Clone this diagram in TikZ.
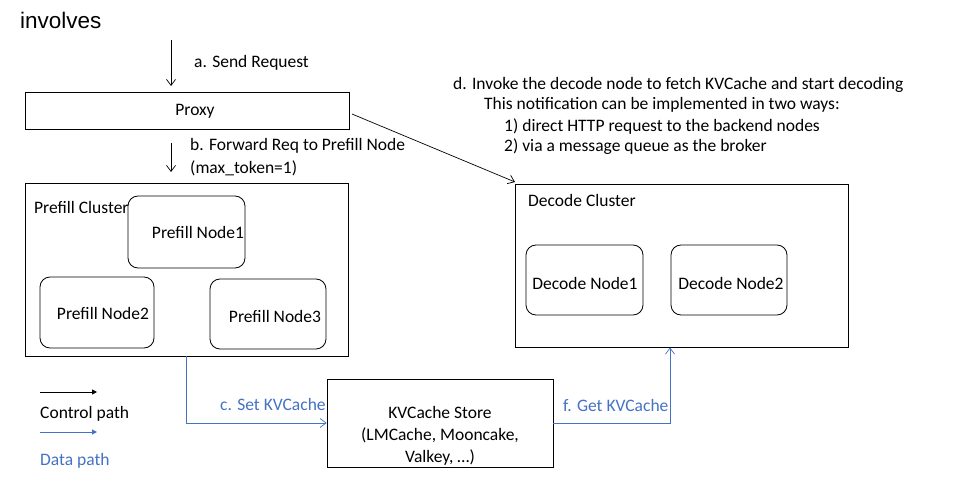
\documentclass[tikz,border=0pt]{standalone}
\usepackage{fontspec}
\setmainfont{Carlito}
\newfontfamily\arialf{Liberation Sans}
\usetikzlibrary{arrows.meta,calc}
\definecolor{dblue}{HTML}{4472C4}
\tikzset{
  box/.style={draw=black, line width=0.8pt, fill=white, inner sep=0pt},
  rbox/.style={draw=black, line width=0.8pt, rounded corners=10pt, inner sep=0pt, minimum width=116pt, minimum height=71pt},
  lbl/.style={anchor=west, inner sep=0pt, font=\fontsize{17.5}{20}\selectfont},
  ctl/.style={draw=black, line width=0.7pt, -{Straight Barb[length=6pt,width=9pt]}},
  dat/.style={draw=dblue, line width=0.7pt, -{Straight Barb[length=6pt,width=9pt]}},
  legc/.style={draw=black, line width=1pt, -{Triangle[length=5pt,width=5pt]}},
  legd/.style={draw=dblue, line width=1pt, -{Triangle[length=5pt,width=5pt]}},
}
\begin{document}
\begin{tikzpicture}[x=1pt,y=-1pt]
\useasboundingbox (0,0) rectangle (967,484);
\fill[white] (0,0) rectangle (967,484);

\node[anchor=west, inner sep=0pt, font=\arialf\fontsize{22.5}{26}\selectfont] (title) at (20,20) {involves};

% proxy
\node[box, minimum width=324pt, minimum height=37pt] (proxy) at (187,110.5) {};
\node[lbl, anchor=center] (proxyt) at (195,111) {Proxy};

% prefill cluster
\node[box, minimum width=323pt, minimum height=173pt] (pc) at (186.5,269.5) {};
\node[lbl] (pct) at (34,207) {Prefill Cluster};
\node[rbox, minimum width=117pt, minimum height=72pt] (p1) at (186.5,232) {};
\node[lbl, anchor=center] (p1t) at (198,232) {Prefill Node1};
\node[rbox, minimum width=114pt, minimum height=71pt] (p2) at (97,312.5) {};
\node[lbl, anchor=center] (p2t) at (103,313) {Prefill Node2};
\node[rbox, minimum width=116pt, minimum height=70pt] (p3) at (268,314) {};
\node[lbl, anchor=center] (p3t) at (275,316) {Prefill Node3};

% decode cluster
\node[box, minimum width=333pt, minimum height=163pt] (dc) at (681.5,265.5) {};
\node[lbl] (dct) at (528,200) {Decode Cluster};
\node[rbox, minimum width=117pt, minimum height=70pt] (d1) at (584.5,280) {};
\node[lbl, anchor=center] (d1t) at (585,283) {Decode Node1};
\node[rbox, minimum width=116pt, minimum height=70pt] (d2) at (729,280) {};
\node[lbl, anchor=center] (d2t) at (731,283) {Decode Node2};

% KV store
\node[box, minimum width=226pt, minimum height=88pt] (kv) at (440,423) {};
\node[lbl, anchor=center, align=center, font=\fontsize{17.5}{22}\selectfont] (kvt) at (440,436) {KVCache Store\\(LMCache, Mooncake,\\Valkey, \dots)};

% arrow a
\coordinate (aTop) at (171,40);
\coordinate (aBot) at (171,86);
\draw[ctl] (aTop) -- (aBot);
\node[lbl] (alab) at (194,63) {a. Send Request};

% arrow b
\coordinate (bTop) at (171,143);
\coordinate (bBot) at (171,172);
\draw[ctl] (bTop) -- (bBot);
\node[lbl] (blab1) at (190,146) {b. Forward Req to Prefill Node};
\node[lbl] (blab2) at (190,168) {(max\_token=1)};

% arrow d
\coordinate (dStart) at (352,114);
\coordinate (dEnd) at (515,182);
\draw[ctl] (dStart) -- (dEnd);
\node[lbl] (dl1) at (453,85) {d. Invoke the decode node to fetch KVCache and start decoding};
\node[lbl] (dl2) at (484,105) {This notification can be implemented in two ways:};
\node[lbl] (dl3) at (504,127) {1) direct HTTP request to the backend nodes};
\node[lbl] (dl4) at (504,147) {2) via a message queue as the broker};

% arrow c
\draw[dat] (pc.south) |- (kv.west);
\node[lbl, text=dblue] (clab) at (220,404) {c. Set KVCache};

% arrow f
\coordinate (fTop) at (670,347.5);
\draw[dat] (kv.east) -| (fTop);
\node[lbl, text=dblue] (flab) at (563,405) {f. Get KVCache};

% legend
\coordinate (lc1) at (40,392);
\coordinate (lc2) at (97,392);
\draw[legc] (lc1) -- (lc2);
\node[lbl] (lct) at (40,414) {Control path};
\coordinate (ld1) at (40,432);
\coordinate (ld2) at (97,432);
\draw[legd] (ld1) -- (ld2);
\node[lbl, text=dblue] (ldt) at (40,461) {Data path};
\end{tikzpicture}
\end{document}
